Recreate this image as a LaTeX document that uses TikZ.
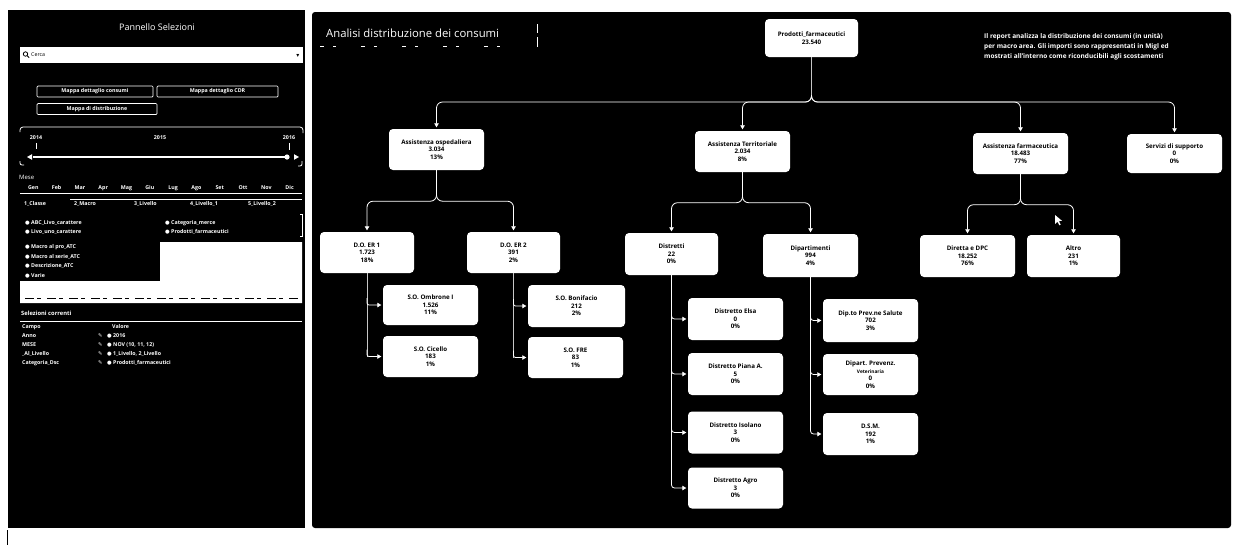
\documentclass[tikz,border=0pt]{standalone}
\usepackage{fontspec}
\setmainfont{Open Sans}
\newfontfamily\symf{DejaVu Sans}
\usetikzlibrary{arrows.meta,calc}

\begin{document}
\begin{tikzpicture}[x=1pt,y=-1pt,
  box/.style={fill=white,rounded corners=4pt,minimum width=95pt,minimum height=41pt,
    align=center,inner sep=1pt,text=black,font=\bfseries\fontsize{6.2}{7.6}\selectfont},
  link/.style={draw=white,line width=0.8pt},
  trunk/.style={draw=gray!45,line width=0.5pt},
  tip/.style={-{Triangle[width=4.5pt,length=4pt]},shorten >=1.5pt},
  ptxt/.style={text=white,anchor=west,inner sep=0pt,font=\bfseries\fontsize{5.3}{6}\selectfont},
  pbold/.style={ptxt,font=\bfseries\fontsize{5.3}{6}\selectfont},
  btn/.style={draw=white,line width=0.7pt,rounded corners=1pt,minimum height=11pt,
    inner sep=0pt,text=white,font=\bfseries\fontsize{5.3}{5.5}\selectfont},
]
\useasboundingbox (0,0) rectangle (1248,547);
\fill[white] (0,0) rectangle (1248,547);

% ---------- side panel ----------
\fill[black] (8,10) rectangle (305,528);
\draw[black,line width=1pt] (7,530) -- (7,545);
\node[text=white,font=\fontsize{9}{10}\selectfont] (ptitle) at (157,27) {Pannello Selezioni};

% search field
\node[fill=white,minimum width=283pt,minimum height=16pt,inner sep=0pt,anchor=north west] (search) at (20,47) {};
\draw[black,line width=0.8pt] (25.5,54) circle (2.2pt) (27.2,55.7) -- (29.2,57.7);
\node[anchor=west,inner sep=0pt,text=black,font=\fontsize{5.3}{6}\selectfont] (cerca) at (31,55) {Cerca};
\node[inner sep=0pt,text=black,font=\symf\fontsize{6}{6}\selectfont] (drop) at (298,55.5) {▾};

% buttons
\node[btn,minimum width=116pt] (b1) at (95,91.5) {Mappa dettaglio consumi};
\node[btn,minimum width=121pt] (b2) at (217.5,91.5) {Mappa dettaglio CDR};
\node[btn,minimum width=120pt] (b3) at (97,109) {Mappa di distribuzione};

% year slider
\draw[white,line width=0.8pt,rounded corners=3pt] (20,132) -- (20,127) -- (303,127) -- (303,133);
\draw[white,line width=0.8pt,rounded corners=2pt] (20,161) -- (20,165) -- (24,165);
\draw[white,line width=0.8pt,rounded corners=2pt] (298,166) -- (302,166) -- (302,161);
\node[pbold,anchor=center] (y14) at (36,138) {2014};
\node[pbold,anchor=center] (y15) at (160,138) {2015};
\node[pbold,anchor=center] (y16) at (289,138) {2016};
\draw[white,line width=0.9pt] (36,143) -- (36,149) (289,143) -- (289,150);
\draw[white,line width=1.3pt] (33,157) -- (287,157);
\fill[white] (27,157) -- (32,154.2) -- (32,159.8) -- cycle;
\fill[white] (299,157) -- (294,154.2) -- (294,159.8) -- cycle;
\fill[white] (287,157) circle (2.6pt);

% month selector
\node[ptxt,font=\fontsize{6}{7}\selectfont] (mese) at (19,177) {Mese};
\foreach \m [count=\i] in {Gen,Feb,Mar,Apr,Mag,Giu,Lug,Ago,Set,Ott,Nov,Dic}
  \node[pbold,anchor=center] (m\i) at (21+\i*23.3-11,188) {\m};
\draw[white,line width=0.8pt] (20,193) -- (302,193);
\draw[white,line width=0.6pt] (70,199) -- (302,199);
\node[pbold] (l1) at (24,204) {1\_Classe};
\node[pbold] (l2) at (74,204) {2\_Macro};
\node[pbold] (l3) at (134,204) {3\_Livello};
\node[pbold] (l4) at (190,204) {4\_Livello\_1};
\node[pbold] (l5) at (248,204) {5\_Livello\_2};

% value lists
\node[ptxt] (v1) at (25,223) {{\symf ●} ABC\_Livo\_carattere};
\node[ptxt] (v2) at (25,231.5) {{\symf ●} Livo\_uno\_carattere};
\node[ptxt] (v3) at (165,223) {{\symf ●} Categoria\_merce};
\node[ptxt] (v4) at (165,231.5) {{\symf ●} Prodotti\_farmaceutici};
\draw[white,line width=0.8pt] (300,214) -- (302,214) -- (302,236) -- (300,236);
\node[ptxt] (v5) at (25,247) {{\symf ●} Macro al pro\_ATC};
\node[ptxt] (v6) at (25,256.5) {{\symf ●} Macro al serie\_ATC};
\node[ptxt] (v7) at (25,266) {{\symf ●} Descrizione\_ATC};
\node[ptxt] (v8) at (25,275.5) {{\symf ●} Varie};
\fill[white] (160,242) -- (302,242) -- (302,303) -- (20,303) -- (20,281) -- (160,281) -- cycle;
\draw[black,line width=0.6pt,dash pattern=on 9pt off 3pt on 4pt off 6pt] (25,298) -- (300,298);

% current selections
\node[ptxt,font=\bfseries\fontsize{5.8}{6.5}\selectfont] (sel) at (21,313) {Selezioni correnti};
\draw[white,line width=0.8pt] (20,321) -- (302,321);
\node[pbold] (campo) at (22,327) {Campo};
\node[pbold] (valore) at (112,327) {Valore};
\foreach \k/\v/\yy in {Anno/2016/336, MESE/{NOV (10, 11, 12)}/345, \_Al\_Livello/{1\_Livello, 2\_Livello}/354, Categoria\_Dsc/Prodotti\_farmaceutici/363}{
  \node[pbold] at (22,\yy) {\k};
  \node[ptxt,font=\symf\fontsize{5.3}{6}\selectfont] at (98,\yy) {✎};
  \node[pbold] at (107,\yy) {{\symf ●} \v};
}

% ---------- main panel ----------
\fill[black,rounded corners=3pt] (312,12) rectangle (1231,528);
\node[anchor=west,inner sep=0pt,text=white,font=\fontsize{11.3}{12}\selectfont] (mtitle) at (326,33) {Analisi distribuzione dei consumi};
\draw[white,line width=0.8pt,dash pattern=on 4pt off 9pt on 3pt off 25pt] (320,46) -- (522,46);
\draw[white,line width=1pt] (537,24) -- (537,33) (537,37) -- (537,47);
\node[anchor=north west,inner sep=0pt,text=white,align=left,
  font=\bfseries\fontsize{6.5}{10}\selectfont] (descr) at (984,33)
  {Il report analizza la distribuzione dei consumi (in unità)\\
   per macro area. Gli importi sono rappresentati in Migl ed\\
   mostrati all'interno come riconducibili agli scostamenti};

% tree nodes
\node[box,minimum width=93pt,minimum height=38pt] (top) at (811.5,38) {Prodotti\_farmaceutici\\23.540};

\node[box] (osp) at (436.5,149.5) {Assistenza ospedaliera\\3.034\\13\%};
\node[box] (ter) at (742.5,151.5) {Assistenza Territoriale\\2.034\\8\%};
\node[box] (far) at (1020.5,153.5) {Assistenza farmaceutica\\18.483\\77\%};
\node[box,minimum height=39pt] (ser) at (1174.5,153.5) {Servizi di supporto\\0\\0\%};

\node[box,minimum width=94pt] (er1) at (367,252.5) {D.O. ER 1\\1.723\\18\%};
\node[box,minimum width=93pt] (er2) at (513.5,252.5) {D.O. ER 2\\391\\2\%};
\node[box,minimum width=93pt,minimum height=42pt] (dis) at (671.5,254) {Distretti\\22\\0\%};
\node[box,minimum height=43pt] (dip) at (810.5,255.5) {Dipartimenti\\994\\4\%};
\node[box,minimum height=42pt] (dpc) at (967.5,256) {Diretta e DPC\\18.252\\76\%};
\node[box,minimum width=93pt,minimum height=42pt] (alt) at (1073.5,256) {Altro\\231\\1\%};

\node[box,minimum height=40pt] (so1) at (430.5,305) {S.O. Ombrone I\\1.526\\11\%};
\node[box] (so2) at (430.5,356.5) {S.O. Cicello\\183\\1\%};
\node[box,minimum width=97pt,minimum height=42pt] (so3) at (576.5,306) {S.O. Bonifacio\\212\\2\%};
\node[box] (so4) at (575.5,357.5) {S.O. FRE\\83\\1\%};

\node[box,minimum height=42pt] (d1) at (735.5,319) {Distretto Elsa\\0\\0\%};
\node[box,minimum height=42pt] (d2) at (735.5,374) {Distretto Piana A.\\5\\0\%};
\node[box,minimum height=42pt] (d3) at (735.5,432.5) {Distretto Isolano\\3\\0\%};
\node[box,minimum height=41pt] (d4) at (735.5,488) {Distretto Agro\\3\\0\%};

\node[box,minimum height=43pt] (p1) at (870.5,320.5) {Dip.to Prev.ne Salute\\702\\3\%};
\node[box] (p2) at (870.5,374.5) {Dipart. Prevenz.\\{\fontsize{4.8}{6}\selectfont Veterinaria}\\0\\0\%};
\node[box,minimum height=42pt] (p3) at (870.5,434) {D.S.M.\\192\\1\%};

% connectors
\coordinate (peak) at (811.5,95);
\draw[trunk] (top.south) -- (peak);
\foreach \c in {osp,ter,far,ser}
  \draw[link,tip,rounded corners=6pt] (peak) -- ++(0,7) -| (\c.north);
\foreach \c in {er1,er2}
  \draw[link,tip,rounded corners=6pt] (osp.south) -- ++(0,31) -| (\c.north);
\foreach \c in {dis,dip}
  \draw[link,tip,rounded corners=6pt] (ter.south) -- ++(0,30.5) -| (\c.north);
\foreach \c in {dpc,alt}
  \draw[link,tip,rounded corners=6pt] (far.south) -- ++(0,30.5) -| (\c.north);

\draw[trunk] (er1.south) -- (er1.south |- so2.west);
\draw[trunk] (er2.south) -- (er2.south |- so4.west);
\foreach \c in {so1,so2}
  \draw[link,tip,rounded corners=2pt] ($(er1.south |- \c.west)+(0,-7)$) |- (\c.west);
\foreach \c in {so3,so4}
  \draw[link,tip,rounded corners=2pt] ($(er2.south |- \c.west)+(0,-7)$) |- (\c.west);
\foreach \c in {d1,d2,d3,d4}
  \draw[link,tip,rounded corners=3pt] (dis.south) |- (\c.west);
\foreach \c in {p1,p2,p3}
  \draw[link,tip,rounded corners=3pt] (dip.south) |- (\c.west);

% mouse pointer
\fill[white] (1055,215) -- (1055,224) -- (1057.4,221.6) -- (1059.3,225.3) -- (1060.6,224.7) -- (1058.8,221.1) -- (1062,220.8) -- cycle;
\end{tikzpicture}
\end{document}
